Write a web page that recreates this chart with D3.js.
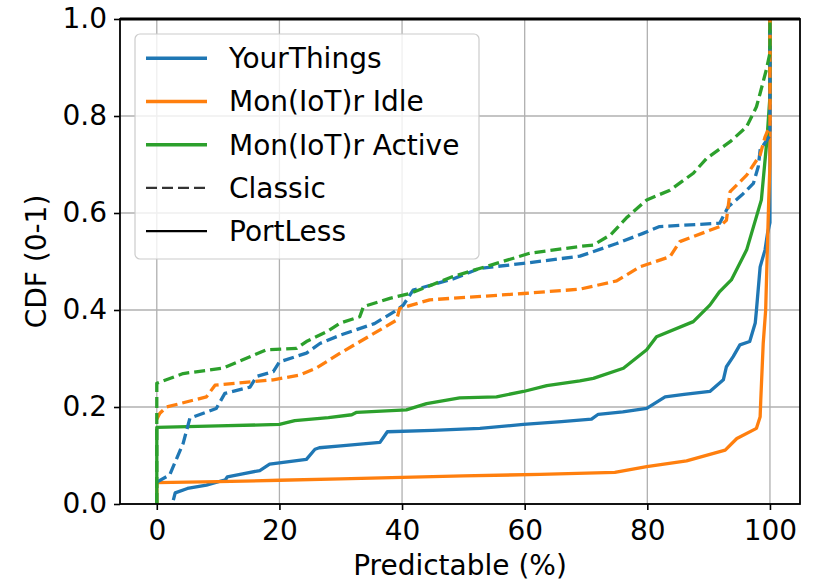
<!DOCTYPE html>
<html>
<head>
<meta charset="utf-8">
<script src="https://cdn.jsdelivr.net/npm/d3@7"></script>
<style>
  body { margin: 0; background: #fff; }
  svg { font-family: "DejaVu Sans", sans-serif; }
</style>
</head>
<body>
<svg id="chart" width="816" height="582"></svg>
<script>
// CDF points: [predictable %, cdf]
var yourThings = [[2.7,0.008],[3.0,0.023],[5,0.032],[8.1,0.039],[11.2,0.05],[11.5,0.056],[14,0.062],[16.8,0.069],[18.4,0.082],[20,0.085],[24.4,0.092],[25.8,0.113],[26.5,0.116],[30,0.12],[36.4,0.127],[37.6,0.149],[45,0.152],[52.7,0.156],[59.8,0.164],[66,0.17],[70.9,0.175],[72,0.185],[76,0.19],[79.9,0.197],[82.9,0.221],[86,0.226],[90.2,0.232],[92.4,0.256],[92.9,0.283],[94,0.304],[95.1,0.328],[96.7,0.335],[97.6,0.373],[97.8,0.4],[98.4,0.489],[99.2,0.524],[99.6,0.558],[100,0.58],[100,1]];
var monIdle = [[0,0],[0,0.044],[10,0.046],[20,0.049],[30,0.052],[40,0.055],[50,0.058],[62.5,0.061],[74.7,0.065],[79.9,0.077],[86.4,0.089],[92.7,0.111],[94.6,0.135],[97.8,0.156],[98.4,0.18],[98.5,0.214],[98.9,0.331],[99.3,0.4],[99.8,0.627],[100,0.7],[100,1]];
var monActive = [[0,0],[0,0.158],[10,0.161],[20,0.164],[22.5,0.172],[28,0.178],[31.8,0.184],[32.6,0.189],[40.7,0.194],[44,0.207],[49.4,0.219],[55.4,0.221],[59.8,0.232],[63.6,0.244],[69,0.254],[71.2,0.259],[76.1,0.28],[79.9,0.318],[81.5,0.345],[87.5,0.376],[90.2,0.41],[91.8,0.438],[93.7,0.462],[96.2,0.524],[98.6,0.627],[99.5,0.75],[100,0.84],[100,1]];
var yourThingsClassic = [[0,0.045],[2.1,0.06],[4.3,0.125],[5.4,0.177],[9.7,0.197],[11.1,0.228],[15.2,0.241],[16.3,0.263],[19,0.273],[20,0.293],[24.4,0.311],[26.6,0.331],[29.9,0.348],[35.5,0.372],[38.8,0.397],[40.2,0.41],[41.8,0.441],[48.3,0.464],[52.7,0.486],[59.8,0.496],[69,0.511],[75,0.537],[79.3,0.558],[82,0.572],[91.8,0.579],[93.2,0.613],[95.4,0.637],[97.3,0.661],[98.1,0.696],[98.4,0.73],[100,0.76],[100,1]];
var monIdleClassic = [[0,0.175],[0.5,0.187],[1.6,0.2],[8.1,0.221],[9.5,0.245],[19,0.256],[23.3,0.266],[26,0.28],[29.9,0.311],[36.4,0.359],[39.1,0.379],[39.6,0.403],[44.5,0.421],[59.8,0.434],[69,0.443],[75,0.46],[78.8,0.489],[83.7,0.51],[85.3,0.541],[91.8,0.572],[92.9,0.585],[93.5,0.644],[96.2,0.678],[98.4,0.72],[99.2,0.757],[100,0.78],[100,1]];
var monActiveClassic = [[0,0],[0,0.249],[4.3,0.269],[10.8,0.28],[17.9,0.318],[22.8,0.321],[24.4,0.335],[27.7,0.355],[29.9,0.373],[33.1,0.386],[33.7,0.407],[38,0.424],[41.3,0.434],[48.3,0.469],[55.4,0.496],[60.8,0.517],[69,0.531],[71.2,0.534],[74,0.555],[76.6,0.59],[79.9,0.627],[83.7,0.647],[87.5,0.682],[89.7,0.713],[93.5,0.747],[96.2,0.778],[97.8,0.819],[98.4,0.847],[99.4,0.895],[100,0.93],[100,1]];
var portLessLevel = 1;

var xTicks = [0, 20, 40, 60, 80, 100];
var yTicks = [0, 0.2, 0.4, 0.6, 0.8, 1.0];
var legendLabels = ["YourThings", "Mon(IoT)r Idle", "Mon(IoT)r Active", "Classic", "PortLess"];

var blue = "#1f77b4", orange = "#ff7f0e", green = "#2ca02c";

var margin = {top: 19, right: 16, bottom: 78, left: 120};
var width = 816 - margin.left - margin.right;
var height = 582 - margin.top - margin.bottom;

var svg = d3.select("#chart");
var g = svg.append("g").attr("transform", "translate(" + margin.left + "," + margin.top + ")");

var x = d3.scaleLinear().domain([-6.0, 104.9]).range([0, width]);
var y = d3.scaleLinear().domain([0, 1]).range([height, 0]);

// grid
g.append("g").selectAll("line").data(xTicks).enter().append("line")
    .attr("x1", function(d) { return x(d); }).attr("x2", function(d) { return x(d); })
    .attr("y1", 0).attr("y2", height)
    .attr("stroke", "#b0b0b0").attr("stroke-width", 1.3);
g.append("g").selectAll("line").data(yTicks).enter().append("line")
    .attr("y1", function(d) { return y(d); }).attr("y2", function(d) { return y(d); })
    .attr("x1", 0).attr("x2", width)
    .attr("stroke", "#b0b0b0").attr("stroke-width", 1.3);

g.append("clipPath").attr("id", "plotClip").append("rect")
    .attr("x", 0).attr("y", -3).attr("width", width).attr("height", height + 3);

var line = d3.line()
    .x(function(d) { return x(d[0]); })
    .y(function(d) { return y(d[1]); });

var series = [
    {data: yourThings, color: blue, dash: null},
    {data: monIdle, color: orange, dash: null},
    {data: monActive, color: green, dash: null},
    {data: yourThingsClassic, color: blue, dash: "11,5"},
    {data: monIdleClassic, color: orange, dash: "11,5"},
    {data: monActiveClassic, color: green, dash: "11,5"}
];

var plot = g.append("g").attr("clip-path", "url(#plotClip)");
series.forEach(function(s) {
    plot.append("path")
        .datum(s.data)
        .attr("d", line)
        .attr("fill", "none")
        .attr("stroke", s.color)
        .attr("stroke-width", 3.3)
        .attr("stroke-dasharray", s.dash)
        .attr("stroke-linejoin", "round");
});

// PortLess sits at CDF = 1 across the whole range
plot.append("path")
    .datum(x.domain().map(function(d) { return [d, portLessLevel]; }))
    .attr("d", line)
    .attr("fill", "none")
    .attr("stroke", "#000")
    .attr("stroke-width", 3.2);

// axes
var xAxis = g.append("g")
    .attr("transform", "translate(0," + height + ")")
    .call(d3.axisBottom(x).tickValues(xTicks).tickSize(6).tickPadding(10).tickSizeOuter(0));
var yAxis = g.append("g")
    .call(d3.axisLeft(y).tickValues(yTicks).tickSize(6).tickPadding(7).tickSizeOuter(0).tickFormat(d3.format(".1f")));

[xAxis, yAxis].forEach(function(a) {
    a.select(".domain").remove();
    a.selectAll(".tick line").attr("stroke", "#000").attr("stroke-width", 1.6);
    a.selectAll(".tick text").attr("font-size", 28).attr("fill", "#000")
        .attr("font-family", "DejaVu Sans");
});

// spines
g.append("rect")
    .attr("x", 0).attr("y", 0).attr("width", width).attr("height", height)
    .attr("fill", "none").attr("stroke", "#000").attr("stroke-width", 1.8);

// axis titles
svg.append("text")
    .attr("x", margin.left + width / 2).attr("y", 575)
    .attr("text-anchor", "middle").attr("font-size", 28)
    .text("Predictable (%)");
svg.append("text")
    .attr("transform", "translate(46," + (margin.top + height / 2) + ") rotate(-90)")
    .attr("text-anchor", "middle").attr("font-size", 28)
    .text("CDF (0-1)");

// legend
var legendStyles = [
    {color: blue, width: 3.6, dash: null},
    {color: orange, width: 3.6, dash: null},
    {color: green, width: 3.6, dash: null},
    {color: "#333", width: 2.2, dash: "11,5"},
    {color: "#000", width: 2.2, dash: null}
];
var legend = svg.append("g").attr("transform", "translate(135,34)");
legend.append("rect")
    .attr("width", 344).attr("height", 225).attr("rx", 5)
    .attr("fill", "#fff").attr("fill-opacity", 0.8)
    .attr("stroke", "#cccccc").attr("stroke-width", 1.2);
var rows = legend.selectAll("g.row").data(legendLabels).enter().append("g")
    .attr("class", "row")
    .attr("transform", function(d, i) { return "translate(0," + (24.3 + i * 43.2) + ")"; });
rows.append("line")
    .attr("x1", 11).attr("x2", 72)
    .attr("stroke", function(d, i) { return legendStyles[i].color; })
    .attr("stroke-width", function(d, i) { return legendStyles[i].width; })
    .attr("stroke-dasharray", function(d, i) { return legendStyles[i].dash; });
rows.append("text")
    .attr("x", 94).attr("dy", "0.35em")
    .attr("font-size", 28).attr("fill", "#000")
    .text(function(d) { return d; });
</script>
</body>
</html>
